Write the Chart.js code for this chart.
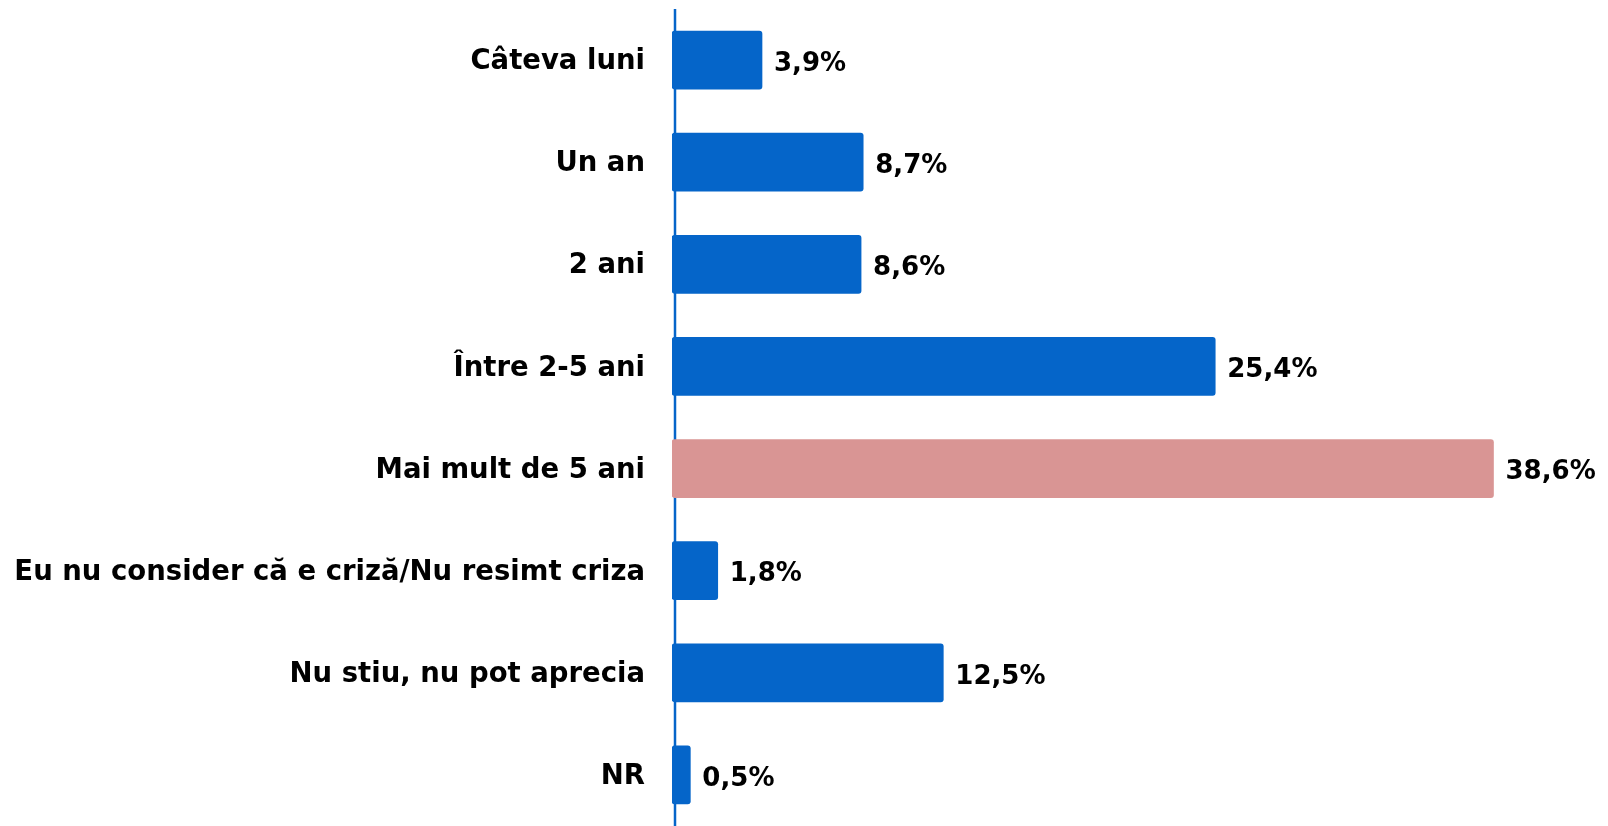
<!DOCTYPE html>
<html>
<head>
<meta charset="utf-8">
<script src="https://cdn.jsdelivr.net/npm/chart.js@4/dist/chart.umd.min.js"></script>
<style>
html,body{margin:0;padding:0;background:#fff;}
#wrap{width:1608px;height:826px;position:relative;}
</style>
</head>
<body>
<div id="wrap"><canvas id="c" width="1608" height="826"></canvas></div>
<script>
const categories = [
  "Câteva luni",
  "Un an",
  "2 ani",
  "Între 2-5 ani",
  "Mai mult de 5 ani",
  "Eu nu consider că e criză/Nu resimt criza",
  "Nu stiu, nu pot aprecia",
  "NR"
];
const values = [3.9, 8.7, 8.6, 25.4, 38.6, 1.8, 12.5, 0.5];
const valueLabels = ["3,9%", "8,7%", "8,6%", "25,4%", "38,6%", "1,8%", "12,5%", "0,5%"];

const BLUE = "#0565C9";
const PINK = "#D99594";
const FONT = "'DejaVu Sans', sans-serif";
const AXIS_MIN = -0.37;

const barColors = categories.map((c, i) => i === 4 ? PINK : BLUE);

const valueLabelPlugin = {
  id: 'valueLabels',
  afterDatasetsDraw(chart) {
    const ctx = chart.ctx;
    const meta = chart.getDatasetMeta(0);
    ctx.save();
    ctx.font = "bold 26px " + FONT;
    ctx.fillStyle = "#000";
    ctx.textAlign = "left";
    ctx.textBaseline = "middle";
    meta.data.forEach((bar, i) => {
      ctx.fillText(valueLabels[i], bar.x + 12, bar.y + 4);
    });
    ctx.restore();
  }
};

const axisLinePlugin = {
  id: 'axisLine',
  beforeDatasetsDraw(chart) {
    const ctx = chart.ctx;
    const x = chart.chartArea.left + 3;
    ctx.save();
    ctx.strokeStyle = BLUE;
    ctx.lineWidth = 2.5;
    ctx.beginPath();
    ctx.moveTo(x, 9);
    ctx.lineTo(x, chart.height);
    ctx.stroke();
    ctx.restore();
  }
};

new Chart(document.getElementById('c'), {
  type: 'bar',
  data: {
    labels: categories,
    datasets: [{
      data: values,
      base: AXIS_MIN,
      backgroundColor: barColors,
      borderWidth: 0,
      borderRadius: 3,
      borderSkipped: false,
      barThickness: 58
    }]
  },
  options: {
    indexAxis: 'y',
    responsive: false,
    animation: false,
    layout: { autoPadding: false, padding: { top: 9, bottom: 0, left: 0, right: 85 } },
    plugins: { legend: { display: false }, tooltip: { enabled: false } },
    scales: {
      x: { display: false, min: AXIS_MIN, max: 40 },
      y: {
        grid: { display: false, drawTicks: false },
        border: { display: false },
        afterFit(scale) { scale.width = 672; scale.paddingTop = 0; scale.paddingBottom = 0; },
        ticks: {
          color: "#000",
          padding: 27,
          labelOffset: 2,
          font: { family: FONT, size: 27.5, weight: 'bold' }
        }
      }
    }
  },
  plugins: [axisLinePlugin, valueLabelPlugin]
});
</script>
</body>
</html>
